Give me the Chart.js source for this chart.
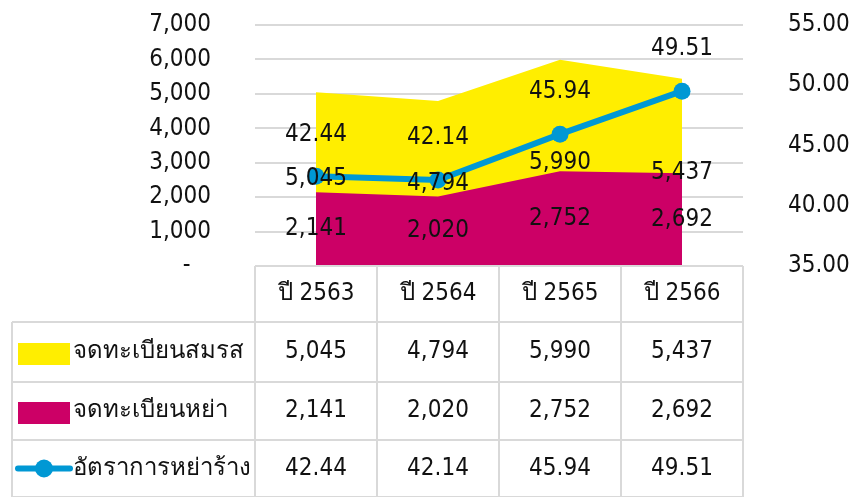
<!DOCTYPE html>
<html>
<head>
<meta charset="utf-8">
<script src="https://cdn.jsdelivr.net/npm/chart.js@4"></script>
<style>
  html, body { margin: 0; padding: 0; background: #fff; }
  #wrap { width: 853px; height: 497px; position: relative; }
</style>
</head>
<body>
<div id="wrap"><canvas id="c"></canvas></div>
<script>
const years = ['ปี 2563', 'ปี 2564', 'ปี 2565', 'ปี 2566'];
const marriages = [5045, 4794, 5990, 5437];
const divorces = [2141, 2020, 2752, 2692];
const divorceRate = [42.44, 42.14, 45.94, 49.51];
const seriesNames = ['จดทะเบียนสมรส', 'จดทะเบียนหย่า', 'อัตราการหย่าร้าง'];

const YELLOW = '#FFEE00';
const MAGENTA = '#CC0066';
const BLUE = '#0098D4';
const GRID = '#D9D9D9';
const TEXT = '#111';
const CLEAR = 'rgba(0,0,0,0)';
const FONT = '"DejaVu Sans Condensed", "DejaVu Sans", sans-serif';
const NUM_SIZE = 24;
const THAI_SIZE = 24;

function fmtInt(n) {
  return n.toLocaleString('en-US');
}

// labels: areas get theirs at half height, the rate line above each point
const valueLabels = {
  id: 'valueLabels',
  afterDatasetsDraw(chart) {
    const ctx = chart.ctx;
    const y = chart.scales.y;
    ctx.save();
    ctx.font = NUM_SIZE + 'px ' + FONT;
    ctx.fillStyle = TEXT;
    ctx.textAlign = 'center';
    ctx.textBaseline = 'middle';
    [[1, divorces], [2, marriages]].forEach(([di, vals]) => {
      const meta = chart.getDatasetMeta(di);
      vals.forEach((v, i) => {
        ctx.fillText(fmtInt(v), meta.data[i].x, y.getPixelForValue(v / 2));
      });
    });
    const lm = chart.getDatasetMeta(0);
    divorceRate.forEach((v, i) => {
      const p = lm.data[i];
      ctx.fillText(v.toFixed(2), p.x, p.y - 42);
    });
    ctx.restore();
  }
};

// data table under the plot, columns follow the category scale
const dataTable = {
  id: 'dataTable',
  afterDraw(chart) {
    const ctx = chart.ctx;
    const xs = chart.scales.x;
    const area = chart.chartArea;
    const colW = xs.getPixelForValue(1) - xs.getPixelForValue(0);
    const left = 12;
    const x0 = xs.getPixelForValue(0) - colW / 2;
    const x1 = x0 + colW * years.length;
    const rows = [area.bottom, 322, 382, 440, 497];

    ctx.save();
    ctx.strokeStyle = GRID;
    ctx.lineWidth = 2;
    ctx.beginPath();
    ctx.moveTo(x0, rows[0]); ctx.lineTo(x1, rows[0]);
    for (let r = 1; r < rows.length; r++) {
      ctx.moveTo(left, rows[r]); ctx.lineTo(x1, rows[r]);
    }
    for (let c = 0; c <= years.length; c++) {
      const x = x0 + c * colW;
      ctx.moveTo(x, rows[0]); ctx.lineTo(x, rows[4]);
    }
    ctx.moveTo(left, rows[1]); ctx.lineTo(left, rows[4]);
    ctx.stroke();

    ctx.fillStyle = TEXT;
    ctx.textAlign = 'center';
    ctx.textBaseline = 'middle';
    const cellRows = [
      years,
      marriages.map(fmtInt),
      divorces.map(fmtInt),
      divorceRate.map(v => v.toFixed(2))
    ];
    cellRows.forEach((vals, r) => {
      const cy = (rows[r] + rows[r + 1]) / 2;
      ctx.font = (r === 0 ? THAI_SIZE : NUM_SIZE) + 'px ' + FONT;
      vals.forEach((t, i) => ctx.fillText(t, xs.getPixelForValue(i), cy));
    });

    // legend keys + series names
    ctx.textAlign = 'left';
    ctx.font = THAI_SIZE + 'px ' + FONT;
    for (let r = 1; r <= 3; r++) {
      const cy = (rows[r] + rows[r + 1]) / 2;
      if (r === 1 || r === 2) {
        ctx.fillStyle = r === 1 ? YELLOW : MAGENTA;
        ctx.fillRect(18, cy - 9, 52, 22);
      } else {
        ctx.strokeStyle = BLUE;
        ctx.lineWidth = 6;
        ctx.lineCap = 'round';
        ctx.beginPath();
        ctx.moveTo(18, cy); ctx.lineTo(70, cy);
        ctx.stroke();
        ctx.fillStyle = BLUE;
        ctx.beginPath();
        ctx.arc(44, cy, 9, 0, Math.PI * 2);
        ctx.fill();
      }
      ctx.fillStyle = TEXT;
      ctx.fillText(seriesNames[r - 1], 73, cy);
    }
    ctx.restore();
  }
};

new Chart(document.getElementById('c'), {
  type: 'line',
  data: {
    labels: years,
    datasets: [
      {
        label: seriesNames[2],
        data: divorceRate,
        yAxisID: 'y1',
        borderColor: BLUE,
        backgroundColor: BLUE,
        borderWidth: 6,
        pointRadius: 8.5,
        pointBackgroundColor: BLUE,
        pointBorderWidth: 0,
        tension: 0,
        fill: false,
        order: 0
      },
      {
        label: seriesNames[1],
        data: divorces,
        yAxisID: 'y',
        borderWidth: 0,
        pointRadius: 0,
        backgroundColor: MAGENTA,
        fill: 'origin',
        tension: 0,
        order: 1
      },
      {
        label: seriesNames[0],
        data: marriages,
        yAxisID: 'y',
        borderWidth: 0,
        pointRadius: 0,
        backgroundColor: YELLOW,
        fill: 'origin',
        tension: 0,
        order: 2
      }
    ]
  },
  options: {
    responsive: true,
    maintainAspectRatio: false,
    animation: false,
    layout: { padding: { top: 25, bottom: 231, left: 0, right: 0 } },
    plugins: {
      legend: { display: false },
      tooltip: { enabled: false }
    },
    scales: {
      x: { display: false, offset: true },
      y: {
        position: 'left',
        min: 0,
        max: 7000,
        afterFit: s => { s.width = 255; },
        border: { display: false },
        // invisible tick marks keep the labels clear of the plot
        grid: { color: GRID, lineWidth: 2, drawTicks: true, tickLength: 44, tickColor: CLEAR },
        ticks: {
          stepSize: 1000,
          padding: 0,
          color: TEXT,
          font: { size: NUM_SIZE, family: FONT },
          callback: v => v === 0 ? '-   ' : fmtInt(v)
        }
      },
      y1: {
        position: 'right',
        min: 35,
        max: 55,
        afterFit: s => { s.width = 110; },
        border: { display: false },
        grid: { color: CLEAR, drawOnChartArea: false, drawTicks: true, tickLength: 45, tickColor: CLEAR },
        ticks: {
          stepSize: 5,
          padding: 0,
          color: TEXT,
          font: { size: NUM_SIZE, family: FONT },
          callback: v => v.toFixed(2)
        }
      }
    }
  },
  plugins: [valueLabels, dataTable]
});
</script>
</body>
</html>
